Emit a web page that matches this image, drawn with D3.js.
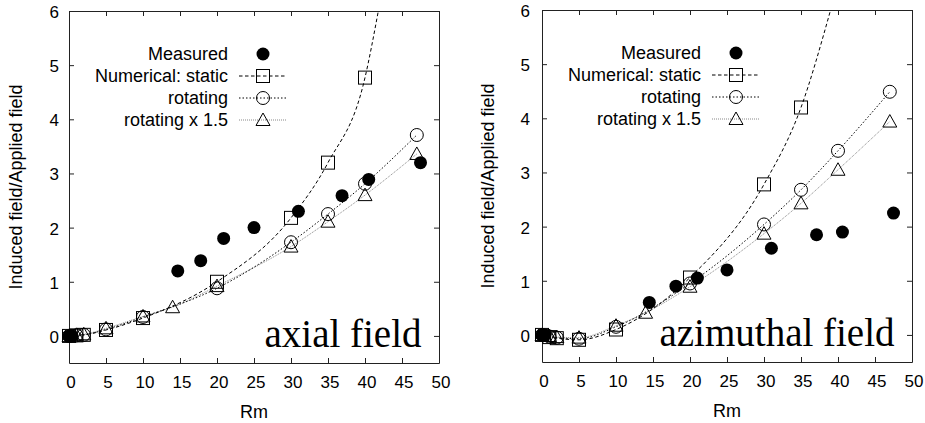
<!DOCTYPE html>
<html>
<head>
<meta charset="utf-8">
<script src="https://cdn.jsdelivr.net/npm/d3@7"></script>
<style>
  html, body { margin: 0; padding: 0; background: #fff; }
  svg { display: block; }
  text { font-family: "Liberation Sans", Arial, sans-serif; fill: #000; }
</style>
</head>
<body>
<svg id="chart" width="925" height="423"></svg>
<script>
// ---- tick labels ----
const xTicks = [0, 5, 10, 15, 20, 25, 30, 35, 40, 45, 50];
const yTicks = [0, 1, 2, 3, 4, 5, 6];
const xTitle = "Rm";
const yTitle = "Induced field/Applied field";
const seriesNames = ["Measured", "Numerical: static", "rotating", "rotating x 1.5"];

// ---- axial field panel ----
const axialMeasuredRm = [0, 0.4, 14.7, 17.8, 20.9, 25.0, 31.0, 36.9, 40.5, 47.5];
const axialMeasured   = [0, 0, 1.2, 1.39, 1.8, 2.0, 2.3, 2.59, 2.89, 3.2];
const axialStaticRm   = [0, 1, 2, 5, 10, 20, 30, 35, 40];
const axialStatic     = [0, 0.01, 0.02, 0.11, 0.33, 1.0, 2.18, 3.2, 4.77];
const axialStaticEnd  = [41.8, 6.0];   // where the static curve leaves the frame
const axialRotRm      = [0, 1, 2, 5, 10, 20, 30, 35, 40, 47];
const axialRot        = [0, 0.01, 0.02, 0.12, 0.35, 0.88, 1.73, 2.25, 2.81, 3.71];
const axialRot15Rm    = [0, 1, 2, 5, 10, 14, 20, 30, 35, 40, 47];
const axialRot15      = [0, 0.02, 0.03, 0.14, 0.36, 0.53, 0.92, 1.65, 2.11, 2.6, 3.36];

// ---- azimuthal field panel ----
const aziMeasuredRm = [0, 0.4, 14.5, 18.1, 21.0, 25.0, 31.0, 37.1, 40.6, 47.5];
const aziMeasured   = [0, 0, 0.6, 0.9, 1.05, 1.2, 1.6, 1.85, 1.9, 2.25];
const aziStaticRm   = [0, 1, 2, 5, 10, 20, 30, 35];
const aziStatic     = [0, -0.04, -0.06, -0.09, 0.1, 1.06, 2.78, 4.2];
const aziStaticEnd  = [39.0, 6.0];
const aziRotRm      = [0, 1, 2, 5, 10, 20, 30, 35, 40, 47];
const aziRot        = [0, -0.03, -0.05, -0.07, 0.15, 0.95, 2.04, 2.68, 3.4, 4.49];
const aziRot15Rm    = [0, 1, 2, 5, 10, 14, 20, 30, 35, 40, 47];
const aziRot15      = [0, -0.02, -0.04, -0.05, 0.17, 0.41, 0.89, 1.87, 2.43, 3.05, 3.94];

const panels = [
  { label: "axial field", x0: 69, x1: 439, yTop: 11, yBot: 363, yGap: 10, titleX: 22,
    meas: [axialMeasuredRm, axialMeasured], stat: [axialStaticRm, axialStatic], statEnd: axialStaticEnd,
    rot: [axialRotRm, axialRot], rot15: [axialRot15Rm, axialRot15] },
  { label: "azimuthal field", x0: 542, x1: 912, yTop: 10, yBot: 362, yGap: 12, titleX: 494,
    meas: [aziMeasuredRm, aziMeasured], stat: [aziStaticRm, aziStatic], statEnd: aziStaticEnd,
    rot: [aziRotRm, aziRot], rot15: [aziRot15Rm, aziRot15] }
];

const svg = d3.select("#chart");
const zip = (xs, ys) => xs.map((v, i) => [v, ys[i]]);
const frameColor = "#222";

const styles = {
  stat:  { dash: "3.5,2.5", color: "#000", width: 1 },
  rot:   { dash: "1.5,2",   color: "#000", width: 1 },
  rot15: { dash: "1,1",     color: "#888", width: 1 }
};

function drawMarker(g, type, cx, cy) {
  if (type === "meas") {
    g.append("circle").attr("cx", cx).attr("cy", cy).attr("r", 6.5).attr("fill", "#000");
  } else if (type === "stat") {
    g.append("rect").attr("x", cx - 6.5).attr("y", cy - 6.5).attr("width", 13).attr("height", 13)
      .attr("fill", "none").attr("stroke", "#000").attr("stroke-width", 1);
  } else if (type === "rot") {
    g.append("circle").attr("cx", cx).attr("cy", cy).attr("r", 6.5)
      .attr("fill", "none").attr("stroke", "#000").attr("stroke-width", 1);
  } else if (type === "rot15") {
    g.append("path").attr("d", `M${cx - 7},${cy + 5.5}L${cx},${cy - 7}L${cx + 7},${cy + 5.5}Z`)
      .attr("fill", "none").attr("stroke", "#000").attr("stroke-width", 1);
  }
}

panels.forEach((p, pi) => {
  const x = d3.scaleLinear().domain([0, 50]).range([p.x0, p.x1]);
  const y = d3.scaleLinear().domain([-0.5, 6]).range([p.yBot, p.yTop]);
  const g = svg.append("g");

  const clipId = "clip" + pi;
  svg.append("defs").append("clipPath").attr("id", clipId)
    .append("rect").attr("x", p.x0).attr("y", p.yTop).attr("width", p.x1 - p.x0).attr("height", p.yBot - p.yTop);

  // axes with inward ticks, mirrored
  const tk = 5;
  g.append("g").attr("transform", `translate(0,${p.yBot})`)
    .call(d3.axisBottom(x).tickValues(xTicks).tickSizeInner(-tk).tickSizeOuter(0).tickFormat(""))
    .call(a => a.selectAll("line,path").attr("stroke", frameColor));
  g.append("g").attr("transform", `translate(0,${p.yTop})`)
    .call(d3.axisTop(x).tickValues(xTicks).tickSizeInner(-tk).tickSizeOuter(0).tickFormat(""))
    .call(a => a.selectAll("line,path").attr("stroke", frameColor));
  g.append("g").attr("transform", `translate(${p.x0},0)`)
    .call(d3.axisLeft(y).tickValues(yTicks).tickSizeInner(-tk).tickSizeOuter(0).tickFormat(""))
    .call(a => a.selectAll("line,path").attr("stroke", frameColor));
  g.append("g").attr("transform", `translate(${p.x1},0)`)
    .call(d3.axisRight(y).tickValues(yTicks).tickSizeInner(-tk).tickSizeOuter(0).tickFormat(""))
    .call(a => a.selectAll("line,path").attr("stroke", frameColor));

  // tick labels
  g.selectAll(".xl").data(xTicks).join("text")
    .attr("x", d => x(d) + 2).attr("y", p.yBot + 25)
    .attr("text-anchor", "middle").attr("font-size", 17).text(d => d);
  g.selectAll(".yl").data(yTicks).join("text")
    .attr("x", p.x0 - p.yGap).attr("y", d => y(d) + 7)
    .attr("text-anchor", "end").attr("font-size", 17).text(d => d);

  // axis titles
  g.append("text").attr("x", (p.x0 + p.x1) / 2).attr("y", p.yBot + 55)
    .attr("text-anchor", "middle").attr("font-size", 18).text(xTitle);
  g.append("text").attr("transform", `translate(${p.titleX},${(p.yTop + p.yBot) / 2}) rotate(-90)`)
    .attr("text-anchor", "middle").attr("font-size", 18).text(yTitle);

  // panel label
  g.append("text").attr("x", p.x1 - 17.5).attr("y", y(0) + 11.5)
    .attr("text-anchor", "end").attr("font-size", 39)
    .style("font-family", '"Liberation Serif", "Times New Roman", serif').text(p.label);

  // curves
  const line = d3.line().x(d => x(d[0])).y(d => y(d[1])).curve(d3.curveMonotoneX);
  const curves = [
    ["rot15", zip(p.rot15[0], p.rot15[1])],
    ["rot", zip(p.rot[0], p.rot[1])],
    ["stat", zip(p.stat[0], p.stat[1]).concat([p.statEnd])]
  ];
  const cg = g.append("g").attr("clip-path", `url(#${clipId})`);
  curves.forEach(([k, pts]) => {
    cg.append("path").attr("d", line(pts)).attr("fill", "none")
      .attr("stroke", styles[k].color).attr("stroke-width", styles[k].width)
      .attr("stroke-dasharray", styles[k].dash);
  });

  // markers
  const mg = g.append("g");
  zip(p.stat[0], p.stat[1]).forEach(d => drawMarker(mg, "stat", x(d[0]), y(d[1])));
  zip(p.rot[0], p.rot[1]).forEach(d => drawMarker(mg, "rot", x(d[0]), y(d[1])));
  zip(p.rot15[0], p.rot15[1]).forEach(d => drawMarker(mg, "rot15", x(d[0]), y(d[1])));
  zip(p.meas[0], p.meas[1]).forEach(d => drawMarker(mg, "meas", x(d[0]), y(d[1])));

  // legend
  const keys = ["meas", "stat", "rot", "rot15"];
  keys.forEach((k, i) => {
    const ry = p.yTop + 43 + 22 * i;
    g.append("text").attr("x", p.x0 + 159).attr("y", ry + 6.3)
      .attr("text-anchor", "end").attr("font-size", 18).text(seriesNames[i]);
    if (k !== "meas") {
      g.append("line").attr("x1", p.x0 + 170).attr("x2", p.x0 + 218).attr("y1", ry).attr("y2", ry)
        .attr("stroke", styles[k].color).attr("stroke-width", 1).attr("stroke-dasharray", styles[k].dash);
    }
    drawMarker(g, k, p.x0 + 194, ry);
  });
});
</script>
</body>
</html>
